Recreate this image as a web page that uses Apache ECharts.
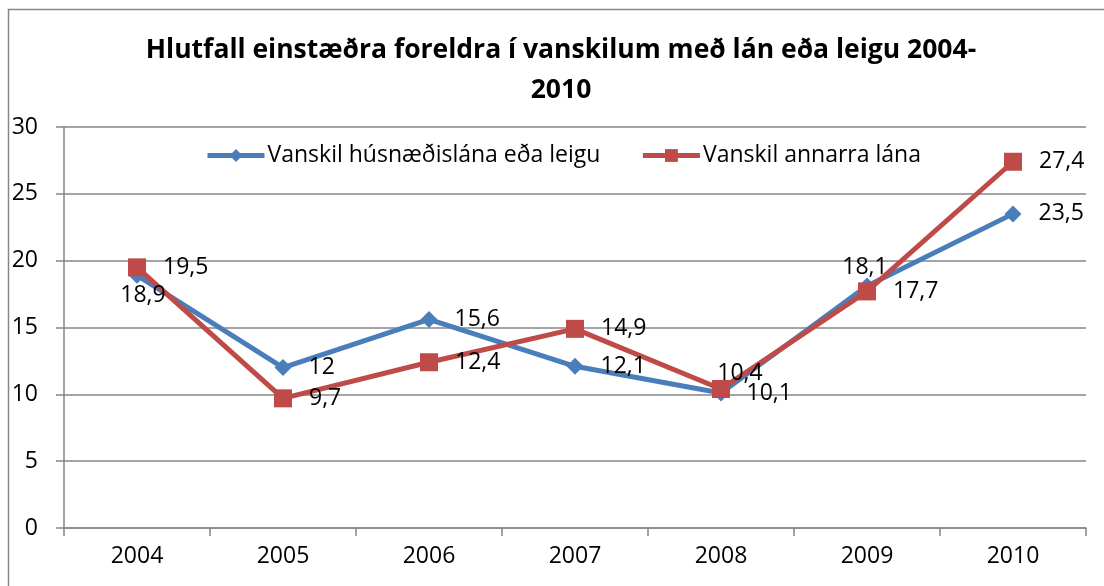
<!DOCTYPE html>
<html>
<head>
<meta charset="utf-8">
<script src="https://cdn.jsdelivr.net/npm/echarts@6/dist/echarts.min.js"></script>
<style>
  html, body { margin: 0; padding: 0; background: #fff; }
  #main { width: 1104px; height: 586px; }
</style>
</head>
<body>
<div id="main"></div>
<script>
// data
const years = ['2004', '2005', '2006', '2007', '2008', '2009', '2010'];
const housing = [18.9, 12, 15.6, 12.1, 10.1, 18.1, 23.5];   // Vanskil húsnæðislána eða leigu
const otherLoans = [19.5, 9.7, 12.4, 14.9, 10.4, 17.7, 27.4]; // Vanskil annarra lána
const yTicks = [0, 5, 10, 15, 20, 25, 30];

const font = '"Open Sans", "Noto Sans", sans-serif';
const gridColor = '#868686';

// label placement per point (the few that are not on the right)
const blueLabel = { 0: { position: 'bottom', distance: 0, offset: [6, 0] }, 5: { position: 'top', distance: -1, offset: [-2, 0] } };
const redLabel = { 4: { position: 'top', distance: 0, offset: [19, 5] } };

const fmt = v => String(v).replace('.', ',');

function buildData(values, special) {
  return values.map((v, i) => {
    const item = { value: v };
    if (special[i]) item.label = special[i];
    return item;
  });
}

const chart = echarts.init(document.getElementById('main'));

chart.setOption({
  animation: false,
  textStyle: { fontFamily: font },
  graphic: [{
    type: 'rect',
    shape: { x: 8.5, y: 9.5, width: 1200, height: 700 },
    style: { fill: 'none', stroke: gridColor, lineWidth: 1.5 },
    silent: true
  }],
  title: {
    text: 'Hlutfall einstæðra foreldra í vanskilum með lán eða leigu 2004-\n2010',
    left: 556,
    top: 25,
    textAlign: 'center',
    textStyle: { fontFamily: font, fontSize: 26.5, fontWeight: 'bold', color: '#000', lineHeight: 40 }
  },
  legend: {
    top: 139,
    left: 200,
    itemWidth: 57,
    itemHeight: 16,
    itemGap: 40,
    lineStyle: { width: 5 },
    textStyle: { fontFamily: font, fontSize: 23, color: '#000', padding: [0, 0, 0, -2] },
    data: ['Vanskil húsnæðislána eða leigu', 'Vanskil annarra lána']
  },
  grid: { left: 64, right: 18, top: 127, bottom: 58, containLabel: false },
  xAxis: {
    type: 'category',
    data: years,
    boundaryGap: true,
    axisLine: { lineStyle: { color: gridColor, width: 1.5 } },
    axisTick: { show: true, length: 8, alignWithLabel: false, lineStyle: { color: gridColor, width: 1.5 } },
    axisLabel: { fontFamily: font, fontSize: 23, color: '#000', margin: 17 }
  },
  yAxis: {
    type: 'value',
    min: yTicks[0],
    max: yTicks[yTicks.length - 1],
    interval: 5,
    axisLine: { show: true, lineStyle: { color: gridColor, width: 1.5 } },
    axisTick: { show: true, length: 8, inside: false, lineStyle: { color: gridColor, width: 1.5 } },
    axisLabel: { fontFamily: font, fontSize: 23, color: '#000', margin: 26 },
    splitLine: { lineStyle: { color: gridColor, width: 1.5 } }
  },
  series: [
    {
      name: 'Vanskil húsnæðislána eða leigu',
      type: 'line',
      data: buildData(housing, blueLabel),
      symbol: 'diamond',
      symbolSize: 17,
      lineStyle: { color: '#4A7EBB', width: 5 },
      itemStyle: { color: '#4A7EBB' },
      label: {
        show: true, position: 'right', distance: 17,
        formatter: p => fmt(p.value),
        fontFamily: font, fontSize: 23, color: '#000'
      }
    },
    {
      name: 'Vanskil annarra lána',
      type: 'line',
      data: buildData(otherLoans, redLabel),
      symbol: 'rect',
      symbolSize: 18,
      lineStyle: { color: '#BE4B48', width: 5 },
      itemStyle: { color: '#BE4B48' },
      label: {
        show: true, position: 'right', distance: 17,
        formatter: p => fmt(p.value),
        fontFamily: font, fontSize: 23, color: '#000'
      }
    }
  ]
});
</script>
</body>
</html>
